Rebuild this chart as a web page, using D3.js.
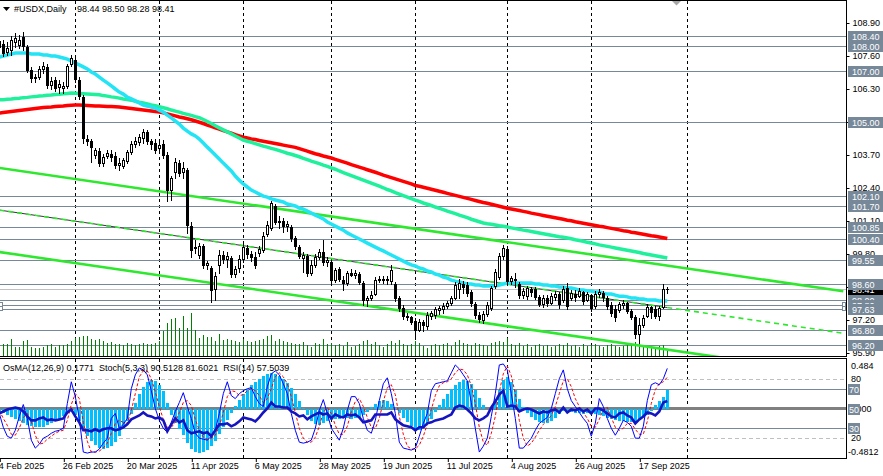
<!DOCTYPE html>
<html>
<head>
<meta charset="utf-8">
<script src="https://cdn.jsdelivr.net/npm/d3@7"></script>
<style>
body{margin:0;background:#fff}
svg{display:block}
text{font-family:"Liberation Sans",Arial,sans-serif;font-size:9px;white-space:pre}
</style>
</head>
<body>
<div id="chart-area"></div>
<script>
// ---- data (USDX daily, 4 Feb 2025 .. 26 Sep 2025) ----
var open = [107.95,108.07,107.76,107.84,108.15,108.03,108.35,107.95,107.05,106.73,
106.77,107.09,107.17,106.46,106.65,106.38,106.34,106.42,107.28,107.44,
106.65,105.98,104.33,104.25,103.70,103.86,103.38,103.66,103.74,103.66,
103.31,103.27,103.46,103.82,104.13,104.21,104.37,104.61,104.25,104.17,
103.97,104.13,103.70,102.32,103.03,103.38,103.03,103.11,100.90,100.03,
99.76,100.11,99.37,99.25,98.42,99.37,99.76,99.60,99.64,99.01,
99.25,99.60,100.03,99.80,99.68,99.84,99.96,100.59,100.82,101.69,
101.06,101.10,100.90,100.86,100.43,100.07,99.64,99.72,99.05,99.37,
99.68,99.88,99.48,99.48,98.77,99.21,98.77,98.66,99.05,98.97,
99.01,98.66,97.99,98.07,98.22,98.77,98.81,98.77,98.73,98.62,
98.07,97.67,97.36,97.32,97.16,96.80,97.12,96.96,97.36,97.40,
97.59,97.63,97.75,97.87,98.07,98.42,98.62,98.58,98.30,97.83,
97.40,97.20,97.43,97.67,98.54,98.89,99.72,99.99,98.73,98.81,
98.62,98.18,98.14,98.42,98.42,98.11,97.83,98.07,97.87,98.11,
98.22,97.99,98.46,98.07,98.22,98.14,98.30,97.99,98.18,97.75,
98.22,98.26,98.07,97.79,97.63,97.59,97.79,97.87,97.55,97.32,
96.65,97.00,97.36,97.71,97.63,97.36,97.71,98.44]

var high = [108.39,108.23,108.15,108.39,108.51,108.43,108.55,108.03,107.17,106.89,
107.21,107.36,107.28,106.77,106.77,106.65,106.57,107.28,107.64,107.56,
106.77,106.06,104.49,104.33,103.97,103.97,103.74,103.90,103.90,103.82,
103.58,103.58,103.90,104.25,104.41,104.53,104.72,104.68,104.33,104.33,
104.25,104.29,103.82,102.87,103.58,103.50,103.42,103.19,101.06,100.35,
100.23,100.19,99.52,99.33,99.09,99.96,99.92,99.88,99.72,99.33,
99.76,100.19,100.15,99.92,99.88,100.11,100.67,101.10,101.89,101.77,
101.30,101.22,101.10,100.94,100.51,100.15,99.88,99.80,99.56,99.80,
99.99,100.35,99.68,99.56,99.25,99.29,98.93,99.13,99.21,99.17,
99.09,98.74,98.14,98.34,98.89,98.93,98.93,98.93,99.37,98.70,
98.14,97.79,97.47,97.36,97.28,97.24,97.20,97.51,97.55,97.71,
97.75,97.87,97.95,98.14,98.70,98.81,98.74,98.70,98.38,97.91,
97.51,97.55,97.91,98.54,99.21,99.84,100.15,100.11,98.93,99.05,
98.70,98.46,98.54,98.50,98.50,98.18,98.18,98.18,98.26,98.34,
98.30,98.54,98.66,98.38,98.38,98.46,98.34,98.30,98.22,98.34,
98.42,98.34,98.14,97.91,97.79,97.91,97.99,97.91,97.63,97.40,
97.28,97.40,97.83,97.75,97.75,97.75,98.62,98.50]

var low = [107.76,107.60,107.64,107.64,107.95,107.91,107.84,106.97,106.57,106.57,
106.69,106.93,106.34,106.30,106.22,106.14,106.14,106.34,107.21,106.57,
105.91,104.17,104.09,103.42,103.58,103.27,103.27,103.58,103.46,103.19,
103.11,103.19,103.38,103.74,104.01,104.09,104.17,104.13,103.94,103.78,
103.90,103.58,101.89,101.93,102.79,102.87,102.79,100.63,99.68,99.84,
99.64,99.25,99.21,97.91,97.99,99.05,99.44,99.29,98.89,98.89,
99.09,99.48,99.64,99.52,99.25,99.72,99.88,100.51,100.74,100.98,
100.82,100.67,100.71,100.31,100.00,99.64,99.09,98.93,98.97,99.29,
99.60,99.37,99.33,98.62,98.70,98.73,98.38,98.58,98.93,98.85,
98.62,97.79,97.75,97.99,98.18,98.70,98.66,98.62,98.62,97.95,
97.55,97.24,97.20,97.04,96.57,96.76,96.76,96.84,97.24,97.28,
97.43,97.47,97.67,97.79,98.03,98.07,98.26,98.14,97.75,97.28,
97.12,97.08,97.36,97.59,98.46,98.81,99.60,98.62,98.62,98.50,
98.07,98.07,98.03,98.14,98.03,97.75,97.71,97.75,97.83,97.99,
97.67,97.91,97.63,97.99,97.95,98.11,97.83,97.95,97.55,97.67,
98.11,97.95,97.63,97.36,97.16,97.51,97.67,97.47,97.24,96.49,
96.29,96.92,97.32,97.28,97.28,97.20,97.67,98.28]

var close = [108.19,107.72,107.91,108.23,108.31,108.23,107.99,107.05,106.73,106.77,
107.09,107.21,106.46,106.61,106.34,106.50,106.42,107.21,107.52,106.69,
106.02,104.37,104.25,104.01,103.90,103.38,103.62,103.78,103.62,103.31,
103.38,103.50,103.82,104.13,104.25,104.41,104.61,104.25,104.13,103.90,
104.09,103.70,102.32,102.79,103.42,102.99,103.19,100.94,99.96,100.07,
100.11,99.37,99.44,98.38,98.93,99.76,99.60,99.72,99.01,99.21,
99.60,100.07,99.80,99.68,99.37,99.99,100.51,100.94,101.81,101.06,
101.10,100.90,100.98,100.43,100.11,99.72,99.76,99.05,99.37,99.68,
99.88,99.48,99.56,98.77,99.17,98.81,98.66,99.05,98.97,99.05,
98.70,97.99,98.07,98.18,98.77,98.81,98.77,98.81,99.17,98.07,
97.67,97.36,97.32,97.12,96.80,97.12,97.00,97.40,97.47,97.63,
97.67,97.75,97.87,98.07,98.58,98.66,98.50,98.26,97.87,97.40,
97.24,97.43,97.79,98.46,99.09,99.72,100.03,98.73,98.85,98.77,
98.18,98.34,98.46,98.30,98.11,97.83,98.07,97.87,98.14,98.22,
97.83,98.42,97.75,98.26,98.11,98.34,97.95,98.22,97.67,98.22,
98.30,98.11,97.75,97.47,97.32,97.83,97.87,97.55,97.32,96.65,
97.00,97.28,97.71,97.51,97.36,97.67,98.42,98.41]

// tick volume
var volume = [1300,1200,1200,1700,900,900,1500,1600,900,800,
800,900,1100,1200,900,1100,1100,1200,1500,1800,
1900,2000,2000,1700,1600,1700,1500,1300,1400,1200,
1200,1100,1300,1200,1100,1200,1300,1200,1200,1300,
1500,2500,3300,3700,3800,2800,4000,2800,4300,2600,
1800,2100,1900,1900,1500,2200,1600,1700,1600,1500,
1400,1700,1500,1400,1500,1600,1700,2000,2100,1500,
1700,1500,1400,1300,1200,1200,1400,1100,900,1300,
1200,1700,1200,1300,1100,1200,1000,1400,900,1000,
1200,1500,1600,1200,1400,1100,900,1200,1500,1300,
1600,1200,1100,1200,1500,1300,1000,800,1100,1200,
1100,1200,1300,1000,1400,1600,1300,1200,1100,1300,
1200,1100,1000,1300,1400,1500,1400,1800,1200,1100,
1300,1000,1200,900,1100,1200,1000,1100,900,1000,
1200,1100,1300,1000,1100,900,1200,1000,1100,1200,
1000,900,1100,1200,1000,900,1000,1100,1200,1400,
1300,1000,900,1000,900,1000,1100,600]

// moving averages (fast = cyan, mid = spring green, slow = red)
var maFast = [107.56,107.60,107.64,107.68,107.72,107.72,107.72,107.72,107.68,107.68,
107.68,107.64,107.64,107.60,107.60,107.56,107.52,107.48,107.40,107.32,
107.25,107.17,107.09,106.97,106.89,106.77,106.65,106.54,106.42,106.30,
106.18,106.10,105.98,105.91,105.83,105.75,105.67,105.63,105.59,105.55,
105.47,105.39,105.27,105.16,105.04,104.92,104.76,104.64,104.53,104.45,
104.33,104.17,104.01,103.86,103.70,103.54,103.38,103.23,103.07,102.87,
102.71,102.56,102.44,102.32,102.24,102.16,102.08,102.04,101.97,101.93,
101.89,101.85,101.77,101.73,101.69,101.61,101.57,101.49,101.41,101.33,
101.26,101.18,101.06,100.98,100.90,100.82,100.74,100.63,100.55,100.47,
100.39,100.31,100.23,100.15,100.07,99.99,99.92,99.84,99.76,99.68,
99.60,99.52,99.44,99.37,99.33,99.25,99.21,99.13,99.09,99.01,
98.97,98.89,98.85,98.77,98.73,98.70,98.66,98.62,98.62,98.58,
98.58,98.54,98.54,98.54,98.54,98.58,98.62,98.66,98.66,98.66,
98.66,98.66,98.66,98.66,98.62,98.62,98.58,98.58,98.54,98.54,
98.50,98.50,98.46,98.46,98.42,98.38,98.38,98.34,98.34,98.30,
98.30,98.26,98.22,98.22,98.18,98.14,98.14,98.11,98.07,98.07,
98.03,98.03,97.99,97.99,97.99,97.95,97.95,97.95]

var maMid = [105.87,105.88,105.90,105.91,105.93,105.94,105.96,105.97,105.99,106.00,
106.02,106.03,106.05,106.06,106.08,106.09,106.11,106.12,106.14,106.13,
106.12,106.11,106.10,106.09,106.08,106.07,106.04,106.02,105.99,105.97,
105.94,105.91,105.89,105.86,105.82,105.78,105.75,105.71,105.67,105.64,
105.60,105.56,105.52,105.47,105.43,105.39,105.34,105.30,105.26,105.21,
105.17,105.10,105.02,104.94,104.85,104.77,104.69,104.61,104.53,104.45,
104.37,104.29,104.24,104.20,104.15,104.10,104.05,104.01,103.96,103.92,
103.87,103.82,103.77,103.73,103.68,103.63,103.57,103.52,103.46,103.41,
103.36,103.30,103.25,103.19,103.14,103.07,103.01,102.95,102.89,102.83,
102.77,102.71,102.65,102.59,102.53,102.47,102.41,102.34,102.29,102.22,
102.16,102.10,102.04,101.98,101.92,101.87,101.81,101.76,101.71,101.65,
101.60,101.55,101.49,101.44,101.39,101.33,101.28,101.23,101.17,101.12,
101.07,101.02,100.99,100.97,100.94,100.91,100.89,100.86,100.83,100.80,
100.77,100.74,100.72,100.69,100.66,100.63,100.60,100.57,100.54,100.51,
100.48,100.46,100.43,100.40,100.36,100.33,100.30,100.26,100.23,100.20,
100.16,100.13,100.10,100.07,100.04,100.01,99.98,99.95,99.92,99.89,
99.86,99.82,99.79,99.76,99.73,99.70,99.67,99.64]

var maSlow = [105.35,105.37,105.39,105.41,105.43,105.45,105.47,105.49,105.51,105.53,
105.55,105.57,105.58,105.59,105.61,105.62,105.63,105.65,105.66,105.67,
105.67,105.66,105.65,105.64,105.63,105.63,105.62,105.61,105.61,105.60,
105.59,105.57,105.55,105.53,105.51,105.49,105.47,105.45,105.43,105.41,
105.39,105.36,105.32,105.28,105.24,105.20,105.17,105.13,105.09,105.04,
104.99,104.94,104.88,104.83,104.77,104.72,104.66,104.61,104.56,104.50,
104.45,104.40,104.37,104.33,104.31,104.27,104.24,104.21,104.18,104.15,
104.12,104.09,104.06,104.03,104.00,103.95,103.90,103.85,103.80,103.75,
103.71,103.66,103.62,103.58,103.53,103.48,103.43,103.38,103.32,103.27,
103.22,103.17,103.12,103.07,103.02,102.97,102.91,102.86,102.81,102.76,
102.71,102.66,102.61,102.56,102.50,102.47,102.43,102.39,102.35,102.31,
102.27,102.23,102.19,102.15,102.11,102.07,102.03,101.99,101.95,101.91,
101.87,101.83,101.80,101.76,101.72,101.68,101.64,101.60,101.57,101.54,
101.51,101.48,101.45,101.41,101.38,101.35,101.32,101.29,101.26,101.23,
101.20,101.17,101.13,101.11,101.07,101.04,101.01,100.98,100.95,100.92,
100.89,100.87,100.84,100.81,100.78,100.75,100.72,100.70,100.66,100.64,
100.61,100.58,100.55,100.52,100.50,100.47,100.44,100.41]

// OsMA(12,26,9)
var osma = [-0.029,-0.039,-0.058,-0.078,-0.097,-0.117,-0.136,-0.156,-0.166,-0.175,
-0.175,-0.175,-0.156,-0.136,-0.117,-0.097,-0.068,-0.039,-0.010,-0.058,
-0.117,-0.195,-0.263,-0.312,-0.351,-0.380,-0.390,-0.380,-0.361,-0.322,
-0.263,-0.195,-0.117,-0.049,0.058,0.146,0.214,0.263,0.283,0.273,
0.234,0.175,0.058,-0.058,-0.136,-0.195,-0.253,-0.331,-0.390,-0.419,
-0.429,-0.419,-0.400,-0.361,-0.312,-0.244,-0.175,-0.107,-0.039,0.029,
0.088,0.146,0.195,0.234,0.263,0.292,0.322,0.341,0.351,0.341,
0.322,0.292,0.253,0.205,0.146,0.078,0.010,-0.058,-0.117,-0.146,
-0.156,-0.136,-0.117,-0.107,-0.097,-0.097,-0.088,-0.088,-0.097,-0.088,
-0.078,-0.058,-0.029,0.019,0.049,0.078,0.088,0.078,0.049,0.010,
-0.039,-0.088,-0.127,-0.166,-0.195,-0.205,-0.185,-0.146,-0.097,-0.029,
0.039,0.097,0.146,0.195,0.234,0.263,0.283,0.273,0.244,0.185,
0.107,0.039,0.000,0.019,0.097,0.195,0.283,0.312,0.263,0.185,
0.097,0.019,-0.039,-0.078,-0.107,-0.127,-0.136,-0.136,-0.117,-0.088,
-0.049,-0.019,-0.019,-0.029,-0.039,-0.039,-0.049,-0.039,-0.039,-0.049,
-0.058,-0.068,-0.088,-0.097,-0.107,-0.117,-0.117,-0.127,-0.127,-0.117,
-0.097,-0.078,-0.058,-0.019,0.039,0.078,0.117,0.1771]

// Stoch(5,3,3) main / signal
var stochMain = [45,31,22,20,28,42,54,40,18,10,
14,20,22,25,27,28,30,55,77,62,
40,6,5,6,6,9,15,20,40,45,
30,34,40,70,84,91,89,84,68,50,
38,30,26,36,47,56,66,52,40,25,
20,19,18,22,28,45,65,77,63,60,
65,68,70,71,62,55,52,72,85,88,
84,75,65,45,28,16,15,16,18,30,
48,59,45,30,24,18,30,48,62,62,
55,40,28,25,38,58,75,81,65,45,
16,10,9,8,10,22,35,45,68,75,
76,77,78,86,94,90,84,78,56,30,
6,12,20,42,65,94,95,89,65,40,
10,10,15,20,28,35,38,41,50,65,
80,89,70,58,52,46,40,35,22,35,
60,52,40,30,23,30,38,36,32,20,
20,32,58,74,76,74,80,90.5128]

var stochSignal = [48,40,33,24,23,30,41,45,37,23,
14,15,19,22,25,27,28,38,54,65,
60,36,17,6,6,7,10,15,25,35,
38,36,35,48,65,82,88,88,80,67,
52,39,31,31,36,46,56,58,53,39,
28,21,19,20,23,32,46,62,68,67,
63,64,68,70,68,63,56,60,70,82,
86,82,75,62,46,30,20,16,16,21,
32,46,51,45,33,24,24,32,47,57,
60,52,41,31,30,40,57,71,74,64,
42,24,12,9,9,13,22,34,49,63,
73,76,77,80,86,90,89,84,73,55,
31,16,13,25,42,67,85,93,83,65,
38,20,12,15,21,28,34,38,43,52,
65,78,80,72,60,52,46,40,32,31,
39,49,51,41,31,28,30,35,35,29,
24,24,37,55,69,75,77,81.6021]

// RSI(14)
var rsi = [45,47,49,50,51,50,47,42,38,38,
40,41,38,39,38,39,40,46,49,42,
36,28,28,27,29,27,29,30,30,28,
29,31,34,39,41,43,46,43,42,40,
41,38,27,34,40,36,38,28,25,26,
27,25,26,22,28,34,34,35,32,34,
37,41,40,39,37,41,46,50,56,52,
52,51,51,47,45,42,43,39,42,44,
46,44,45,40,44,42,41,44,43,44,
41,36,37,38,44,44,44,44,46,39,
36,33,32,31,28,31,31,35,36,38,
39,40,42,44,51,53,52,49,45,40,
38,40,43,51,57,64,68,52,53,52,
47,49,50,49,47,45,47,46,48,49,
46,51,46,49,48,50,47,49,45,50,
50,48,45,42,41,45,46,43,41,35,
39,42,46,45,43,47,56,57.5039]

// horizontal levels, price scale ticks, time axis
var levels = [108.40,108.00,107.00,105.00,102.10,101.70,100.85,100.40,99.55,98.60,98.00,97.80,97.63,96.80,96.20]
var bidPrice = 98.41
var priceTicks = [108.90,107.60,106.30,105.00,103.70,102.40,101.10,99.80,98.50,97.20,95.90]
var timeTickIndex = [0,16,32,48,64,80,96,112,128,144,160]
var timeTickLabels = ['4 Feb 2025','26 Feb 2025','20 Mar 2025','11 Apr 2025','6 May 2025','28 May 2025','19 Jun 2025','11 Jul 2025','4 Aug 2025','26 Aug 2025','17 Sep 2025']
var monthStartIndex = [19,40,61,83,104,127,148,172]

// channel lines: [bar index, price] anchors
var channelUpper = [[0,103.19],[211,98.33]]
var channelLower = [[0,99.88],[211,95.02]]
var channelMid = [[0,101.53],[211,96.68]]

// ---- layout ----
var W = 883, H = 476
var plotRight = 846
var mainBottom = 356
var subTop = 359, subBottom = 458

var svg = d3.select('#chart-area').append('svg')
	.attr('width', W)
	.attr('height', H)

svg.append('rect').attr('width', W).attr('height', H).attr('fill', '#fff')

var defs = svg.append('defs')
defs.append('clipPath').attr('id', 'clipMain')
	.append('rect').attr('x', 0).attr('y', 1).attr('width', plotRight).attr('height', mainBottom - 1)
defs.append('clipPath').attr('id', 'clipSub')
	.append('rect').attr('x', 0).attr('y', subTop).attr('width', plotRight).attr('height', subBottom - subTop)

// scales
var xScale = d3.scaleLinear().domain([0, 1]).range([-0.7, 3.3])
var yScale = d3.scaleLinear().domain([95.90, 108.90]).range([353, 23])
var vScale = d3.scaleLinear().domain([0, 6000]).range([0, 60])
var yOsc = d3.scaleLinear().domain([0, 100]).range([subBottom, subTop])
var yOsma = d3.scaleLinear().domain([-0.4812, 0.484]).range([subBottom, subTop])

function cx(i){ return Math.round(xScale(i)) }
function py(p){ return Math.round(yScale(p)) }

var bars = open.map(function(o, i){
	return {i: i, o: o, h: high[i], l: low[i], c: close[i], v: volume[i]}
})

// ================= MAIN WINDOW =================
var mainG = svg.append('g').attr('clip-path', 'url(#clipMain)')

// month separators
mainG.selectAll('line.vgrid').data(monthStartIndex).enter().append('line')
	.attr('x1', function(d){ return cx(d) + 0.5 })
	.attr('x2', function(d){ return cx(d) + 0.5 })
	.attr('y1', 1).attr('y2', mainBottom)
	.attr('stroke', '#000').attr('stroke-dasharray', '3,3')

// level lines
mainG.selectAll('line.level').data(levels).enter().append('line')
	.attr('x1', 0).attr('x2', plotRight)
	.attr('y1', function(d){ return py(d) + 0.5 })
	.attr('y2', function(d){ return py(d) + 0.5 })
	.attr('stroke', '#778899')

mainG.append('line')
	.attr('x1', 0).attr('x2', plotRight)
	.attr('y1', py(bidPrice) + 0.5).attr('y2', py(bidPrice) + 0.5)
	.attr('stroke', '#c0c0c0')

// volumes
mainG.selectAll('line.vol').data(bars).enter().append('line')
	.attr('x1', function(d){ return cx(d.i) + 0.5 })
	.attr('x2', function(d){ return cx(d.i) + 0.5 })
	.attr('y1', mainBottom)
	.attr('y2', function(d){ return mainBottom - Math.round(vScale(d.v)) })
	.attr('stroke', '#008000')

// channel
var trend = d3.line()
	.x(function(d){ return xScale(d[0]) })
	.y(function(d){ return yScale(d[1]) })

mainG.append('path').attr('d', trend(channelUpper))
	.attr('fill', 'none').attr('stroke', '#2ee82e').attr('stroke-width', 2.6)
mainG.append('path').attr('d', trend(channelLower))
	.attr('fill', 'none').attr('stroke', '#2ee82e').attr('stroke-width', 2.6)

// mid line: solid dark up to last bar, green dashes over full length
var slopeMid = (channelMid[1][1] - channelMid[0][1]) / (channelMid[1][0] - channelMid[0][0])
var lastIdx = close.length - 1
mainG.append('path').attr('d', trend([channelMid[0], [lastIdx, channelMid[0][1] + slopeMid * lastIdx]]))
	.attr('fill', 'none').attr('stroke', '#333').attr('stroke-width', 1)
mainG.append('path').attr('d', trend(channelMid))
	.attr('fill', 'none').attr('stroke', '#2ee82e').attr('stroke-width', 1.6)
	.attr('stroke-dasharray', '5,4')

// moving averages
var maLine = d3.line()
	.x(function(d, i){ return xScale(i) })
	.y(function(d){ return yScale(d) })

mainG.append('path').attr('d', maLine(maSlow))
	.attr('fill', 'none').attr('stroke', '#ff0000').attr('stroke-width', 3.5)
mainG.append('path').attr('d', maLine(maMid))
	.attr('fill', 'none').attr('stroke', '#1ef09c').attr('stroke-width', 3.5)
mainG.append('path').attr('d', maLine(maFast))
	.attr('fill', 'none').attr('stroke', '#22e4f4').attr('stroke-width', 3.5)

// candles
var candle = mainG.selectAll('g.candle').data(bars).enter().append('g')
	.attr('shape-rendering', 'crispEdges')

candle.append('line')
	.attr('x1', function(d){ return cx(d.i) + 0.5 })
	.attr('x2', function(d){ return cx(d.i) + 0.5 })
	.attr('y1', function(d){ return py(d.h) })
	.attr('y2', function(d){ return py(d.l) + 1 })
	.attr('stroke', '#000')

candle.append('rect')
	.attr('x', function(d){ return d.c >= d.o ? cx(d.i) - 0.5 : cx(d.i) - 1 })
	.attr('width', function(d){ return d.c >= d.o ? 2 : 3 })
	.attr('y', function(d){
		var t = py(Math.max(d.o, d.c))
		return d.c >= d.o ? t + 0.5 : t
	})
	.attr('height', function(d){
		var t = py(Math.max(d.o, d.c)), b = py(Math.min(d.o, d.c))
		return d.c >= d.o ? Math.max(b - t, 0) : b - t + 1
	})
	.attr('fill', function(d){ return d.c >= d.o ? '#fff' : '#000' })
	.attr('stroke', function(d){ return d.c >= d.o ? '#000' : 'none' })

// object handles on both ends
;[-1, plotRight - 4].forEach(function(x){
	svg.append('rect').attr('x', x + 0.5).attr('y', 302.5).attr('width', 3).attr('height', 4)
		.attr('fill', '#fff').attr('stroke', '#778899')
	svg.append('rect').attr('x', x + 0.5).attr('y', 306.5).attr('width', 3).attr('height', 4)
		.attr('fill', '#fff').attr('stroke', '#778899')
})

// title
svg.append('path').attr('d', 'M3,7 L10,7 L6.5,11 Z').attr('fill', '#000')
svg.append('text').attr('x', 14).attr('y', 12).attr('fill', '#000').text('#USDX,Daily')
svg.append('text').attr('x', 77).attr('y', 12).attr('fill', '#000').text('98.44 98.50 98.28 98.41')

// shift marker
svg.append('path').attr('d', 'M672,1 L681,1 L676.5,5.5 Z').attr('fill', '#a8a8a8')

// borders
svg.append('line').attr('x1', 0).attr('x2', plotRight + 1).attr('y1', 0.5).attr('y2', 0.5).attr('stroke', '#000')
svg.append('line').attr('x1', 0).attr('x2', plotRight + 1).attr('y1', mainBottom + 0.5).attr('y2', mainBottom + 0.5).attr('stroke', '#000')
svg.append('line').attr('x1', plotRight + 0.5).attr('x2', plotRight + 0.5).attr('y1', 0).attr('y2', mainBottom + 1).attr('stroke', '#000')

// price axis
var yAxis = d3.axisRight(yScale)
	.tickValues(priceTicks)
	.tickFormat(d3.format('.2f'))
	.tickSize(3)
	.tickPadding(3)

var yAxisG = svg.append('g')
	.attr('transform', 'translate(' + (plotRight + 0.5) + ',0)')
	.call(yAxis)
yAxisG.select('.domain').remove()
yAxisG.selectAll('text').attr('font-size', '9px').attr('font-family', '"Liberation Sans",Arial,sans-serif').attr('fill', '#000')
yAxisG.selectAll('line').attr('stroke', '#000')

// bid price box first, level boxes drawn over it
svg.append('rect').attr('x', plotRight + 2).attr('width', W - plotRight - 2)
	.attr('y', py(bidPrice) - 5).attr('height', 11).attr('fill', '#000')
svg.append('text').attr('x', plotRight + 6).attr('y', py(bidPrice) + 4)
	.attr('fill', '#fff').text(d3.format('.2f')(bidPrice))

var lvlLabel = svg.selectAll('g.lvl').data(levels).enter().append('g')
lvlLabel.append('rect')
	.attr('x', plotRight + 2).attr('width', W - plotRight - 2)
	.attr('y', function(d){ return py(d) - 5 }).attr('height', 11)
	.attr('fill', '#778899')
lvlLabel.append('text')
	.attr('x', plotRight + 6)
	.attr('y', function(d){ return py(d) + 4 })
	.attr('fill', '#fff')
	.text(function(d){ return d3.format('.2f')(d) })

// ================= SUB WINDOW =================
var subG = svg.append('g').attr('clip-path', 'url(#clipSub)')

subG.selectAll('line.vgrid').data(monthStartIndex).enter().append('line')
	.attr('x1', function(d){ return cx(d) + 0.5 })
	.attr('x2', function(d){ return cx(d) + 0.5 })
	.attr('y1', subTop).attr('y2', subBottom)
	.attr('stroke', '#000').attr('stroke-dasharray', '3,3')

;[80, 20].forEach(function(v){
	subG.append('line').attr('x1', 0).attr('x2', plotRight)
		.attr('y1', Math.round(yOsc(v)) + 0.5).attr('y2', Math.round(yOsc(v)) + 0.5)
		.attr('stroke', '#c0c0c0').attr('stroke-dasharray', '4,3')
})
;[70, 30].forEach(function(v){
	subG.append('line').attr('x1', 0).attr('x2', plotRight)
		.attr('y1', Math.round(yOsc(v)) + 0.5).attr('y2', Math.round(yOsc(v)) + 0.5)
		.attr('stroke', '#778899')
})
subG.append('line').attr('x1', 0).attr('x2', plotRight)
	.attr('y1', yOsc(50)).attr('y2', yOsc(50))
	.attr('stroke', '#808080').attr('stroke-width', 3)

// OsMA histogram
var zeroY = Math.round(yOsma(0))
subG.selectAll('rect.osma').data(osma).enter().append('rect')
	.attr('shape-rendering', 'crispEdges')
	.attr('x', function(d, i){ return cx(i) - 1 })
	.attr('width', 3)
	.attr('y', function(d){ return d >= 0 ? Math.round(yOsma(d)) : zeroY })
	.attr('height', function(d){ return Math.abs(Math.round(yOsma(d)) - zeroY) })
	.attr('fill', '#00bfff')

var oscLine = d3.line()
	.x(function(d, i){ return xScale(i) })
	.y(function(d){ return yOsc(d) })

subG.append('path').attr('d', oscLine(stochSignal))
	.attr('fill', 'none').attr('stroke', '#ff0000').attr('stroke-width', 1).attr('stroke-dasharray', '3,2')
subG.append('path').attr('d', oscLine(stochMain))
	.attr('fill', 'none').attr('stroke', '#0000ff').attr('stroke-width', 1)
subG.append('path').attr('d', oscLine(rsi))
	.attr('fill', 'none').attr('stroke', '#1414c0').attr('stroke-width', 2.6)

svg.append('text').attr('x', 3).attr('y', 371).attr('fill', '#000')
	.text('OsMA(12,26,9) 0.1771  Stoch(5,3,3) 90.5128 81.6021  RSI(14) 57.5039')

// sub borders
svg.append('line').attr('x1', 0).attr('x2', plotRight + 1).attr('y1', subTop - 0.5).attr('y2', subTop - 0.5).attr('stroke', '#000')
svg.append('line').attr('x1', 0).attr('x2', plotRight + 1).attr('y1', subBottom + 0.5).attr('y2', subBottom + 0.5).attr('stroke', '#000')
svg.append('line').attr('x1', plotRight + 0.5).attr('x2', plotRight + 0.5).attr('y1', subTop - 1).attr('y2', subBottom + 1).attr('stroke', '#000')

// sub scale labels
svg.append('text').attr('x', 851).attr('y', 369).text('0.484')
svg.append('text').attr('x', 851).attr('y', Math.round(yOsc(80)) + 3).text('80')
svg.append('text').attr('x', 849).attr('y', Math.round(yOsc(50)) + 3).text('0.000')
svg.append('text').attr('x', 851).attr('y', Math.round(yOsc(20)) + 3).text('20')
svg.append('text').attr('x', 848).attr('y', 455).text('-0.4812')
;[70, 50, 30].forEach(function(v){
	var y = Math.round(yOsc(v))
	svg.append('rect').attr('x', plotRight + 2).attr('y', y - 5).attr('width', 12).attr('height', 11).attr('fill', '#778899')
	svg.append('text').attr('x', plotRight + 3).attr('y', y + 4).attr('fill', '#fff').text(v)
})

// time axis
var xAxis = d3.axisBottom(xScale)
	.tickValues(timeTickIndex)
	.tickFormat(function(d, i){ return timeTickLabels[i] })
	.tickSize(3)

var xAxisG = svg.append('g')
	.attr('transform', 'translate(0.5,' + (subBottom + 1) + ')')
	.call(xAxis)
xAxisG.select('.domain').remove()
xAxisG.selectAll('line').attr('stroke', '#000')
xAxisG.selectAll('text')
	.attr('text-anchor', 'start')
	.attr('x', -1.5)
	.attr('y', 4)
	.attr('dy', '0.71em')
	.attr('font-size', '9px')
	.attr('font-family', '"Liberation Sans",Arial,sans-serif')
	.attr('fill', '#000')
</script>
</body>
</html>
